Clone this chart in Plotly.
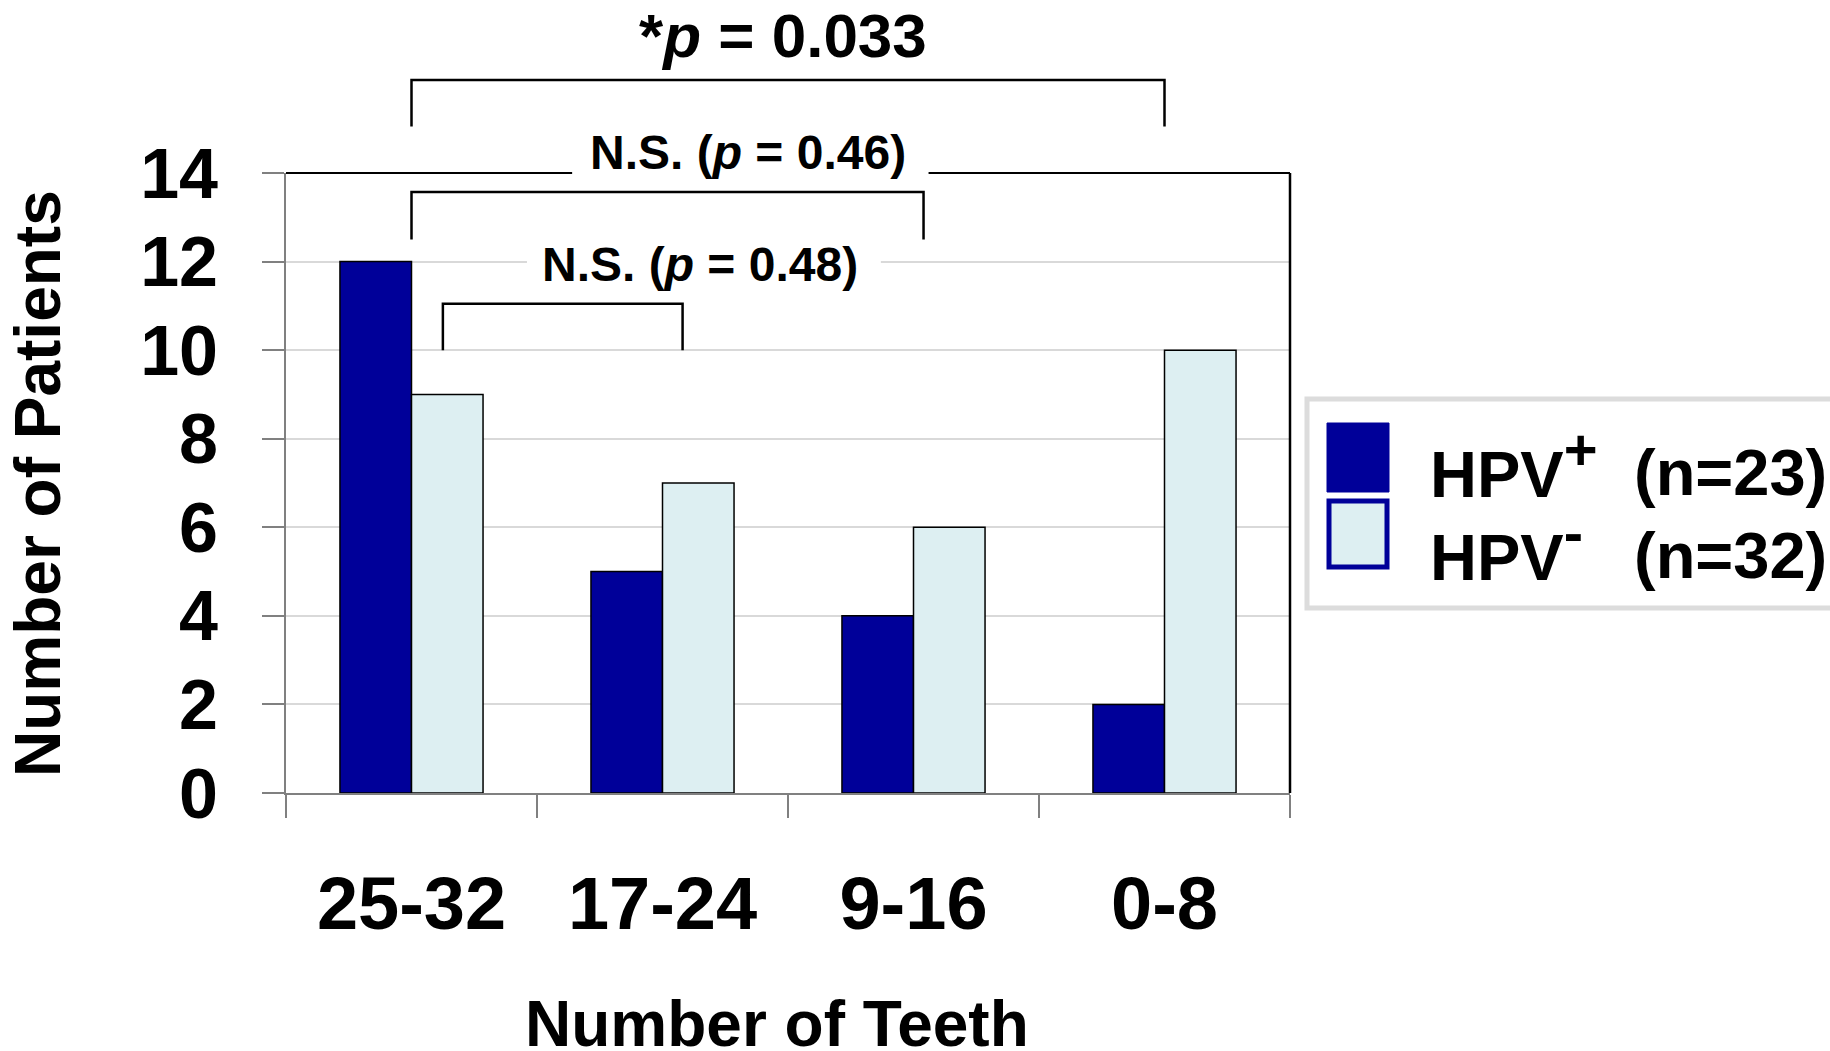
import plotly.graph_objects as go

# ---------------- data ----------------
categories = ["25-32", "17-24", "9-16", "0-8"]
hpv_pos = [12, 5, 4, 2]
hpv_neg = [9, 7, 6, 10]
y_ticks = [0, 2, 4, 6, 8, 10, 12, 14]
series_names = ["HPV<sup><span style='font-size:58px'>+</span></sup>",
                "HPV<sup><span style='font-size:58px'>-</span></sup>"]
series_counts = ["(n=23)", "(n=32)"]
# significance brackets (category-index units / count units)
br_left = [0.0, 0.0, 0.125]
br_right = [3.0, 2.04, 1.08]
br_top = [16.1, 13.57, 11.05]
br_bottom = [15.05, 12.5, 10.0]
br_labels = ["*<i>p</i> = 0.033", "N.S. (<i>p</i> = 0.46)", "N.S. (<i>p</i> = 0.48)"]
br_label_x = [1.48, 1.34, 1.15]
br_label_y = [17.1, 14.47, 11.93]
br_label_size = [62, 48, 48]

C_POS = "#000099"
C_NEG = "#ddeff2"
FONT = "Liberation Sans, Arial, sans-serif"
YMAX = 14
NCAT = len(categories)

W, H = 1830, 1051
L, R, T, B = 286, 540, 173, 258
PW, PH = W - L - R, H - T - B


def xd(k):
    return (k + 0.5) / NCAT


def yd(v):
    return v / YMAX


def xp(px):
    return (px - L) / PW


def yp(py):
    return (H - B - py) / PH


fig = go.Figure()
fig.add_bar(x=categories, y=hpv_pos, name="HPV+", marker=dict(color=C_POS, line=dict(color="black", width=1.5)))
fig.add_bar(x=categories, y=hpv_neg, name="HPV-", marker=dict(color=C_NEG, line=dict(color="black", width=1.5)))

shapes = []
annotations = []

# frame: top (with gap) and right border
shapes.append(dict(type="line", xref="x domain", yref="y domain", x0=0, x1=xd(0.64), y0=1, y1=1,
                   line=dict(color="black", width=2)))
shapes.append(dict(type="line", xref="x domain", yref="y domain", x0=xd(2.06), x1=1, y0=1, y1=1,
                   line=dict(color="black", width=2)))
shapes.append(dict(type="line", xref="x domain", yref="y domain", x0=1, x1=1, y0=0, y1=1,
                   line=dict(color="black", width=2.5)))
# gap in gridline behind lower label
shapes.append(dict(type="rect", xref="x domain", yref="y domain", x0=xd(0.46), x1=xd(1.87),
                   y0=yd(11.75), y1=yd(12.25), fillcolor="white", line=dict(width=0), layer="above"))

for i in range(len(br_labels)):
    path = "M {a},{b} L {a},{c} L {d},{c} L {d},{b}".format(
        a=xd(br_left[i]), b=yd(br_bottom[i]), c=yd(br_top[i]), d=xd(br_right[i]))
    shapes.append(dict(type="path", xref="x domain", yref="y domain", path=path,
                       line=dict(color="black", width=2.5)))
    annotations.append(dict(xref="x domain", yref="y domain", x=xd(br_label_x[i]), y=yd(br_label_y[i]),
                            text=br_labels[i], showarrow=False, xanchor="center", yanchor="middle",
                            font=dict(family=FONT, size=br_label_size[i], color="black", weight="bold")))

# custom legend
shapes.append(dict(type="rect", xref="paper", yref="paper", x0=xp(1307), x1=xp(1845), y0=yp(399), y1=yp(608),
                   fillcolor="white", line=dict(color="#dcdcdc", width=5)))
shapes.append(dict(type="rect", xref="paper", yref="paper", x0=xp(1327), x1=xp(1389), y0=yp(423), y1=yp(492),
                   fillcolor=C_POS, line=dict(color=C_POS, width=1)))
shapes.append(dict(type="rect", xref="paper", yref="paper", x0=xp(1329), x1=xp(1387), y0=yp(501), y1=yp(567),
                   fillcolor=C_NEG, line=dict(color=C_POS, width=5)))
leg_y = [464, 547]
cnt_y = [472, 555]
for i in range(2):
    annotations.append(dict(xref="paper", yref="paper", x=xp(1428), y=yp(leg_y[i]), text=series_names[i],
                            showarrow=False, xanchor="left", yanchor="middle",
                            font=dict(family=FONT, size=65, color="black", weight="bold")))
    annotations.append(dict(xref="paper", yref="paper", x=xp(1632), y=yp(cnt_y[i]), text=series_counts[i],
                            showarrow=False, xanchor="left", yanchor="middle",
                            font=dict(family=FONT, size=65, color="black", weight="bold")))

# axis titles
annotations.append(dict(xref="paper", yref="paper", x=xp(38), y=yp(484), text="Number of Patients",
                        textangle=-90, showarrow=False, xanchor="center", yanchor="middle",
                        font=dict(family=FONT, size=64, color="black", weight="bold")))
annotations.append(dict(xref="paper", yref="paper", x=xp(777), y=yp(1024), text="Number of Teeth",
                        showarrow=False, xanchor="center", yanchor="middle",
                        font=dict(family=FONT, size=64, color="black", weight="bold")))

fig.update_layout(
    width=W, height=H,
    margin=dict(l=L, r=R, t=T, b=B, pad=0),
    plot_bgcolor="white", paper_bgcolor="white",
    barmode="group", bargap=0.43, bargroupgap=0,
    showlegend=False,
    shapes=shapes, annotations=annotations,
    font=dict(family=FONT, color="black"),
)
fig.update_xaxes(showline=True, linecolor="#808080", linewidth=2, ticks="outside", tickson="boundaries",
                 ticklen=23, tickcolor="#808080", tickwidth=2, showgrid=False,
                 tickfont=dict(family=FONT, size=74, color="black", weight="bold"), ticklabelstandoff=45)
fig.update_yaxes(range=[0, YMAX], tickvals=y_ticks, showline=True, linecolor="#808080", linewidth=2,
                 ticks="outside", ticklen=22, tickcolor="#808080", tickwidth=2,
                 showgrid=True, gridcolor="#d9d9d9", gridwidth=2, zeroline=False,
                 tickfont=dict(family=FONT, size=70, color="black", weight="bold"), ticklabelstandoff=30)

fig.write_html("out.html")
